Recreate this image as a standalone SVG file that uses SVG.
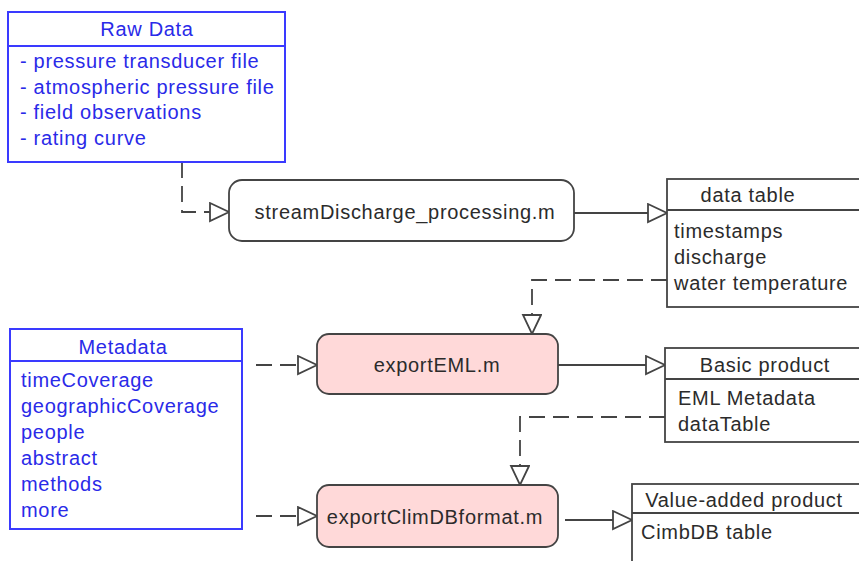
<svg xmlns="http://www.w3.org/2000/svg" width="859" height="561" viewBox="0 0 859 561">
<defs>
<style>
.bx{fill:#fff;stroke:#3a3aff;stroke-width:2}
.bl{fill:#2a2ae8;font-family:"Liberation Sans",Arial,sans-serif;font-size:20px;letter-spacing:0.7px}
.gx{fill:#fff;stroke:#444;stroke-width:1.8}
.pk{fill:#ffd9d9;stroke:#444;stroke-width:1.8}
.gt{fill:#2b2b2b;font-family:"Liberation Sans",Arial,sans-serif;font-size:20px;letter-spacing:0.7px}
.c{fill:none;stroke:#444;stroke-width:1.8}
.d{stroke-dasharray:16,8}
.mid{text-anchor:middle}
</style>
<marker id="tri" markerUnits="userSpaceOnUse" markerWidth="24" markerHeight="22" refX="20" refY="10" orient="auto">
<path d="M1,1 L20,10 L1,19 Z" fill="#fff" stroke="#444" stroke-width="1.8"/>
</marker>
</defs>
<rect width="859" height="561" fill="#fff"/>
<g id="connectors">
<path class="c d" d="M182,162 V212 H229" marker-end="url(#tri)"/>
<path class="c" d="M574,213 H667" marker-end="url(#tri)"/>
<path class="c d" d="M667,280 H532 V334" marker-end="url(#tri)"/>
<path class="c d" d="M256,365 H317" marker-end="url(#tri)"/>
<path class="c" d="M558,365 H665" marker-end="url(#tri)"/>
<path class="c d" d="M665,417 H520 V485" marker-end="url(#tri)"/>
<path class="c d" d="M256,516 H317" marker-end="url(#tri)"/>
<path class="c" d="M565,520 H632" marker-end="url(#tri)"/>
</g>
<g id="raw-data">
<rect class="bx" x="8" y="12" width="277" height="150"/>
<line class="bx" x1="8" y1="46" x2="285" y2="46"/>
<text class="bl mid" x="147" y="36">Raw Data</text>
<text class="bl" x="20" y="68">- pressure transducer file</text>
<text class="bl" x="20" y="94">- atmospheric pressure file</text>
<text class="bl" x="20" y="119">- field observations</text>
<text class="bl" x="20" y="145">- rating curve</text>
</g>
<g id="stream-discharge">
<rect class="gx" x="229" y="180" width="345" height="61" rx="13"/>
<text class="gt mid" x="405" y="219">streamDischarge_processing.m</text>
</g>
<g id="data-table">
<rect class="gx" x="667" y="179" width="200" height="128"/>
<line class="gx" x1="667" y1="210" x2="867" y2="210"/>
<text class="gt mid" x="748" y="202">data table</text>
<text class="gt" x="674" y="238">timestamps</text>
<text class="gt" x="674" y="264">discharge</text>
<text class="gt" x="674" y="290">water temperature</text>
</g>
<g id="metadata">
<rect class="bx" x="10" y="329" width="232" height="200"/>
<line class="bx" x1="10" y1="361" x2="242" y2="361"/>
<text class="bl mid" x="123" y="354">Metadata</text>
<text class="bl" x="21" y="387">timeCoverage</text>
<text class="bl" x="21" y="413">geographicCoverage</text>
<text class="bl" x="21" y="439">people</text>
<text class="bl" x="21" y="465">abstract</text>
<text class="bl" x="21" y="491">methods</text>
<text class="bl" x="21" y="517">more</text>
</g>
<g id="export-eml">
<rect class="pk" x="317" y="334" width="241" height="60" rx="12"/>
<text class="gt mid" x="437" y="372">exportEML.m</text>
</g>
<g id="basic-product">
<rect class="gx" x="665" y="348" width="200" height="94"/>
<line class="gx" x1="665" y1="379" x2="865" y2="379"/>
<text class="gt mid" x="765" y="372">Basic product</text>
<text class="gt" x="678" y="405">EML Metadata</text>
<text class="gt" x="678" y="431">dataTable</text>
</g>
<g id="export-climdb">
<rect class="pk" x="317" y="485" width="241" height="62" rx="12"/>
<text class="gt mid" x="435" y="524">exportClimDBformat.m</text>
</g>
<g id="value-added-product">
<rect class="gx" x="632" y="484" width="240" height="90"/>
<line class="gx" x1="632" y1="513" x2="872" y2="513"/>
<text class="gt mid" x="744" y="507">Value-added product</text>
<text class="gt" x="641" y="539">CimbDB table</text>
</g>
</svg>
